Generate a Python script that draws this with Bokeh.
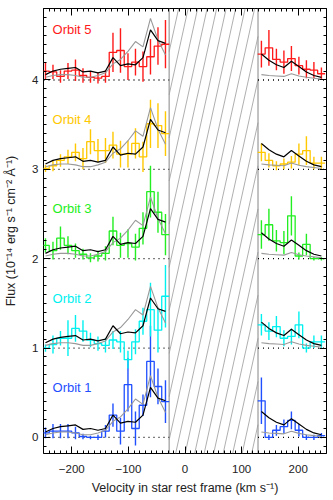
import numpy as np
from bokeh.plotting import figure
from bokeh.models import LinearAxis, SingleIntervalTicker, Range1d, CustomJSTickFormatter
from bokeh.core.properties import value
from bokeh.embed import file_html
from bokeh.resources import INLINE

# ---------------- data ----------------
bin_width = 13.25
vel_left = [-246.5, -233.25, -220.0, -206.75, -193.5, -180.25, -167.0, -153.75, -140.5,
            -127.25, -114.0, -100.75, -87.5, -74.25, -61.0, -47.75, -34.5]
vel_right = [135.0, 148.25, 161.5, 174.75, 188.0, 201.25, 214.5, 227.75, 241.0]
gap_lo, gap_hi = -28.0, 129.0

model_black_left = [0.06, 0.10, 0.12, 0.13, 0.14, 0.09, 0.10, 0.08, 0.10, 0.25, 0.16, 0.18, 0.17, 0.25, 0.56, 0.44, 0.41]
model_gray_left = [0.03, 0.05, 0.06, 0.06, 0.05, 0.03, 0.03, 0.05, 0.08, 0.18, 0.23, 0.32, 0.43, 0.37, 0.69, 0.45, 0.28]
model_black_right = [0.29, 0.22, 0.17, 0.14, 0.21, 0.15, 0.09, 0.05, 0.03]
model_gray_right = [0.06, 0.05, 0.045, 0.04, 0.07, 0.045, 0.03, 0.02, 0.01]

orbit_names = ["Orbit 1", "Orbit 2", "Orbit 3", "Orbit 4", "Orbit 5"]
orbit_offsets = [0, 1, 2, 3, 4]
orbit_colors = ["#1f4fff", "#00f0f0", "#22ee22", "#ffc800", "#ff1a1a"]

flux_left = [
    [0.05, 0.07, 0.07, 0.07, 0.05, 0.01, 0.00, 0.00, 0.07, 0.25, 0.07, 0.59, 0.10, 0.36, 0.85, 0.57, 0.40],
    [0.00, 0.04, 0.11, 0.11, 0.22, 0.19, 0.09, 0.05, 0.03, 0.09, 0.07, -0.13, 0.07, 0.30, 0.43, 0.20, 0.58],
    [0.15, 0.09, 0.23, 0.15, 0.09, 0.05, 0.01, 0.03, 0.06, 0.31, 0.15, 0.17, 0.13, 0.34, 0.75, 0.52, 0.27],
    [0.01, 0.04, 0.10, 0.14, 0.19, 0.12, 0.31, 0.21, 0.21, 0.27, 0.17, 0.17, 0.29, 0.14, 0.51, 0.49, 0.40],
    [0.10, 0.09, 0.04, 0.10, 0.11, 0.05, 0.03, 0.02, 0.04, 0.31, 0.33, 0.15, 0.20, 0.15, 0.26, 0.38, 0.40],
]
err_left = [
    [0.06, 0.08, 0.08, 0.08, 0.07, 0.03, 0.02, 0.03, 0.07, 0.13, 0.15, 0.30, 0.19, 0.12, 0.40, 0.20, 0.24],
    [0.04, 0.10, 0.08, 0.20, 0.15, 0.12, 0.08, 0.08, 0.08, 0.10, 0.12, 0.10, 0.14, 0.15, 0.30, 0.25, 0.35],
    [0.08, 0.10, 0.13, 0.10, 0.08, 0.06, 0.05, 0.06, 0.08, 0.16, 0.14, 0.16, 0.15, 0.18, 0.29, 0.23, 0.23],
    [0.04, 0.06, 0.07, 0.08, 0.10, 0.12, 0.14, 0.13, 0.14, 0.15, 0.15, 0.15, 0.17, 0.17, 0.27, 0.25, 0.25],
    [0.10, 0.08, 0.07, 0.09, 0.12, 0.08, 0.06, 0.06, 0.07, 0.22, 0.25, 0.15, 0.15, 0.17, 0.20, 0.21, 0.27],
]
flux_right = [
    [0.41, 0.00, 0.08, 0.12, 0.19, 0.08, 0.00, 0.00, 0.02],
    [0.26, 0.19, 0.24, 0.11, 0.13, 0.26, 0.00, 0.07, 0.07],
    [0.27, 0.38, 0.20, 0.18, 0.48, 0.03, 0.16, 0.00, 0.00],
    [0.19, 0.10, 0.04, 0.06, 0.08, 0.17, 0.21, 0.07, 0.07],
    [0.29, 0.36, 0.23, 0.20, 0.24, 0.16, 0.12, 0.11, 0.07],
]
err_right = [
    [0.26, 0.03, 0.06, 0.08, 0.10, 0.07, 0.03, 0.03, 0.03],
    [0.12, 0.10, 0.12, 0.09, 0.09, 0.15, 0.05, 0.07, 0.07],
    [0.16, 0.18, 0.12, 0.13, 0.22, 0.04, 0.12, 0.02, 0.02],
    [0.10, 0.08, 0.05, 0.06, 0.07, 0.12, 0.16, 0.07, 0.07],
    [0.15, 0.20, 0.12, 0.13, 0.14, 0.10, 0.10, 0.09, 0.07],
]

x_range = (-250, 250)
y_range = (-0.18, 4.8)
FONT = "Liberation Sans"

# ---------------- figure ----------------
p = figure(width=333, height=500, output_backend="svg", toolbar_location=None,
           x_range=Range1d(*x_range), y_range=Range1d(*y_range),
           min_border_left=43, min_border_right=7, min_border_top=8, min_border_bottom=47)
p.grid.visible = False
p.outline_line_color = "black"
p.outline_line_width = 1
p.background_fill_color = "white"
p.border_fill_color = "white"

xt = SingleIntervalTicker(interval=100, num_minor_ticks=10)
yt = SingleIntervalTicker(interval=1, num_minor_ticks=10)
p.xaxis.ticker = xt
p.yaxis.ticker = yt

for ax in (p.xaxis[0], p.yaxis[0]):
    ax.major_tick_in = 7
    ax.major_tick_out = 0
    ax.minor_tick_in = 3
    ax.minor_tick_out = 0
    ax.axis_line_color = None
    ax.major_label_text_font = FONT
    ax.major_label_text_font_size = "11.5px"
    ax.major_label_text_color = "#222222"
    ax.axis_label_text_font = FONT
    ax.axis_label_text_font_size = "12.5px"
    ax.axis_label_text_font_style = "normal"
    ax.axis_label_text_color = "#222222"

p.xaxis.axis_label = "Velocity in star rest frame (km s\u207b\u00b9)"
p.yaxis.axis_label = "Flux (10\u207b\u00b9\u2074 erg s\u207b\u00b9 cm\u207b\u00b2 \u00c5\u207b\u00b9)"
p.xaxis.major_label_standoff = 11
p.xaxis.axis_label_standoff = 5
p.yaxis.major_label_standoff = 5
p.yaxis.axis_label_standoff = 11
p.yaxis.major_label_orientation = "horizontal"

blank = CustomJSTickFormatter(code="return ''")
for side, tk in (("right", yt), ("above", xt)):
    ax = LinearAxis(ticker=tk, formatter=blank)
    ax.major_tick_in = 7
    ax.major_tick_out = 0
    ax.minor_tick_in = 3
    ax.minor_tick_out = 0
    ax.axis_line_color = None
    ax.major_label_standoff = 0
    ax.axis_label = None
    p.add_layout(ax, side)

# ---------------- hatched gap ----------------
px_per_x = 283.0 / (x_range[1] - x_range[0])
px_per_y = 445.5 / (y_range[1] - y_range[0])
slope_px = 0.22            # horizontal pixels per vertical pixel
spacing_px = 9.5
dxdy = slope_px * px_per_y / px_per_x   # data x per data y
hx, hy = [], []
span_y = y_range[1] - y_range[0]
start = gap_lo - dxdy * span_y
n_lines = int(((gap_hi - start) * px_per_x) / spacing_px) + 2
for i in range(n_lines):
    xb = start + i * spacing_px / px_per_x
    xt_ = xb + dxdy * span_y
    y0, y1 = y_range[0], y_range[1]
    x0, x1 = xb, xt_
    if x0 < gap_lo:
        y0 = y_range[0] + (gap_lo - xb) / dxdy
        x0 = gap_lo
    if x1 > gap_hi:
        y1 = y_range[0] + (gap_hi - xb) / dxdy
        x1 = gap_hi
    if x1 > x0 and y1 > y0:
        hx.append([x0, x1])
        hy.append([y0, y1])
p.multi_line(hx, hy, line_color="#9a9a9a", line_width=0.8)
p.segment(x0=[gap_lo, gap_hi], y0=[y_range[0]] * 2, x1=[gap_lo, gap_hi], y1=[y_range[1]] * 2,
          line_color="#9a9a9a", line_width=1.2)

# ---------------- baselines ----------------
for off in orbit_offsets:
    p.segment(x0=[x_range[0], gap_hi], y0=[off, off], x1=[gap_lo, x_range[1]], y1=[off, off],
              line_color="black", line_width=1.3, line_dash="1 4")


def step_path(centers, vals, off):
    c = np.asarray(centers)
    v = np.asarray(vals) + off
    xs = np.repeat(c, 2) + np.tile([-bin_width / 2, bin_width / 2], len(c))
    ys = np.repeat(v, 2)
    return xs, ys


for name, off, col, fl, el, fr, er in zip(orbit_names, orbit_offsets, orbit_colors,
                                         flux_left, err_left, flux_right, err_right):
    for cen, fv, ev in ((vel_left, fl, el), (vel_right, fr, er)):
        fv_a = np.asarray(fv) + off
        ev_a = np.asarray(ev)
        p.segment(x0=cen, y0=fv_a - ev_a, x1=cen, y1=fv_a + ev_a, line_color=col, line_width=1.4)
        xs, ys = step_path(cen, fv, off)
        p.line(xs, ys, line_color=col, line_width=1.3)
    p.line(vel_left, np.asarray(model_gray_left) + off, line_color="#999999", line_width=1.1)
    p.line(vel_right, np.asarray(model_gray_right) + off, line_color="#999999", line_width=1.1)
    p.line(vel_left, np.asarray(model_black_left) + off, line_color="black", line_width=1.2)
    p.line(vel_right, np.asarray(model_black_right) + off, line_color="black", line_width=1.2)
    p.text(x=[-234], y=[off + 0.56], text=[name], text_color=col, text_font=value(FONT),
           text_font_size="13px", text_baseline="middle", text_align="left")

open("out.html", "w").write(file_html(p, INLINE))
